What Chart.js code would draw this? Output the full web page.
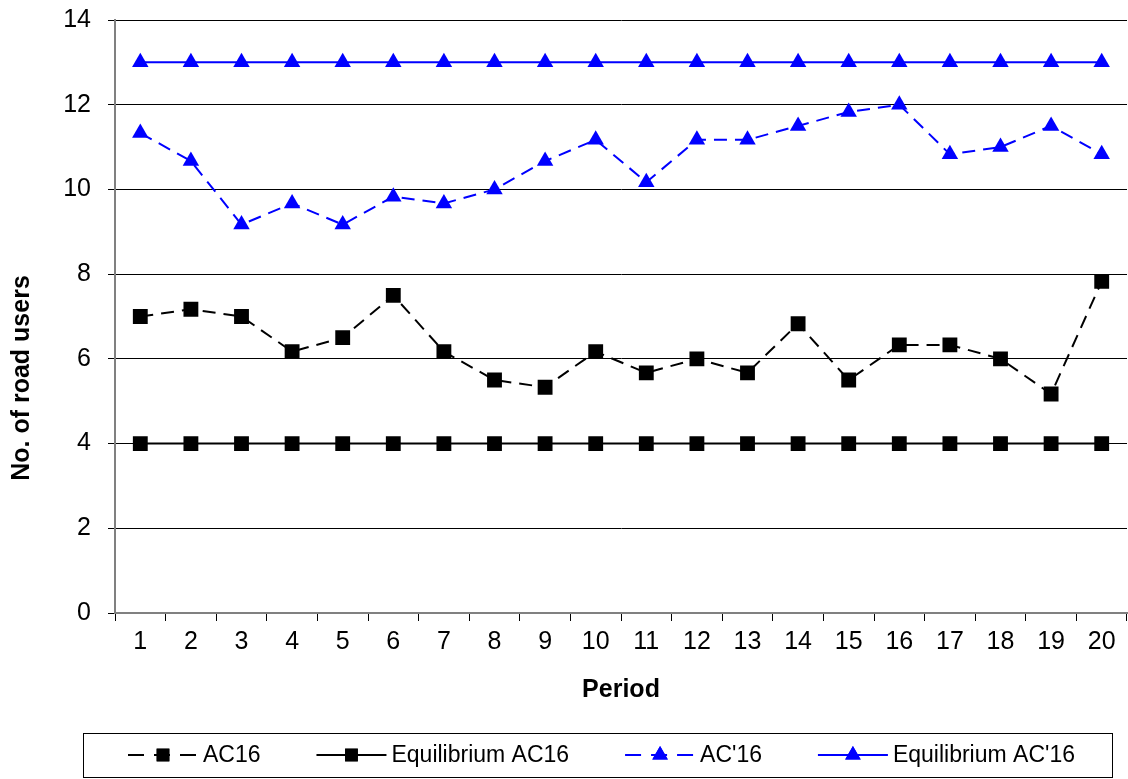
<!DOCTYPE html>
<html>
<head>
    <title>Road users per period</title>
    <script src="https://cdn.jsdelivr.net/npm/chart.js"></script>
    <style>
        html, body { margin: 0; padding: 0; background: #fff; }
        #wrap { width: 1128px; height: 779px; }
    </style>
</head>
<body>
<div id="wrap"><canvas id="roadChart"></canvas></div>
<script>
    // data
    const periods = ['1','2','3','4','5','6','7','8','9','10','11','12','13','14','15','16','17','18','19','20'];
    const ac16 = [7, 7.17, 7, 6.17, 6.5, 7.5, 6.17, 5.5, 5.33, 6.17, 5.67, 6, 5.67, 6.83, 5.5, 6.33, 6.33, 6, 5.17, 7.83];
    const eqAc16 = [4, 4, 4, 4, 4, 4, 4, 4, 4, 4, 4, 4, 4, 4, 4, 4, 4, 4, 4, 4];
    const acP16 = [11.33, 10.67, 9.17, 9.67, 9.17, 9.83, 9.67, 10, 10.67, 11.17, 10.17, 11.17, 11.17, 11.5, 11.83, 12, 10.83, 11, 11.5, 10.83];
    const eqAcP16 = [13, 13, 13, 13, 13, 13, 13, 13, 13, 13, 13, 13, 13, 13, 13, 13, 13, 13, 13, 13];
    const yTicks = [0, 2, 4, 6, 8, 10, 12, 14];
    const yTitle = 'No. of road users';

    const FONT = '"Liberation Sans", Arial, sans-serif';
    Chart.defaults.font.family = FONT;
    Chart.defaults.color = '#000';

    function series(label, data, color, dashed, marker) {
        return {
            label: label,
            data: data,
            borderColor: color,
            backgroundColor: color,
            borderWidth: 2,
            borderDash: dashed ? [13, 8] : [],
            pointStyle: marker,
            pointRadius: marker === 'rect' ? 10.5 : 9.5,
            pointBorderWidth: 0,
            pointBackgroundColor: color,
            tension: 0
        };
    }

    // y title (sits lower than the plot centre in the original) and the boxed legend
    const extras = {
        id: 'extras',
        afterDraw(chart) {
            const ctx = chart.ctx;
            ctx.save();
            ctx.fillStyle = '#000';
            ctx.font = 'bold 25px ' + FONT;
            ctx.textAlign = 'center';
            ctx.textBaseline = 'middle';
            ctx.translate(22, 378);
            ctx.rotate(-Math.PI / 2);
            ctx.fillText(yTitle, 0, 0);
            ctx.restore();

            const top = 733, bottom = 777, left = 83, right = 1112;
            const midY = (top + bottom) / 2;
            ctx.save();
            ctx.strokeStyle = '#000';
            ctx.lineWidth = 1;
            ctx.strokeRect(left + 0.5, top + 0.5, right - left, bottom - top);
            ctx.font = '23px ' + FONT;
            ctx.textBaseline = 'middle';
            const lineLen = 70, gapText = 5, span = 947;
            const items = chart.data.datasets.map(ds => ({ ds: ds, w: ctx.measureText(ds.label).width }));
            const used = items.reduce((s, it) => s + lineLen + gapText + it.w, 0);
            const gapItem = (span - used) / (items.length - 1);
            let x = 128;
            items.forEach(it => {
                const ds = it.ds;
                ctx.strokeStyle = ds.borderColor;
                ctx.lineWidth = 2;
                ctx.setLineDash(ds.borderDash.length ? [16, 10] : []);
                ctx.beginPath();
                ctx.moveTo(x, midY);
                ctx.lineTo(x + lineLen, midY);
                ctx.stroke();
                ctx.setLineDash([]);
                ctx.fillStyle = ds.borderColor;
                Chart.helpers.drawPoint(ctx, { pointStyle: ds.pointStyle, radius: 9, borderWidth: 0 }, x + lineLen / 2, midY);
                ctx.fill();
                ctx.fillStyle = '#000';
                ctx.fillText(ds.label, x + lineLen + gapText, midY + 1);
                x += lineLen + gapText + it.w + gapItem;
            });
            ctx.restore();
        }
    };

    new Chart(document.getElementById('roadChart').getContext('2d'), {
        type: 'line',
        data: {
            labels: periods,
            datasets: [
                series('AC16', ac16, '#000000', true, 'rect'),
                series('Equilibrium AC16', eqAc16, '#000000', false, 'rect'),
                series("AC'16", acP16, '#0000ff', true, 'triangle'),
                series("Equilibrium AC'16", eqAcP16, '#0000ff', false, 'triangle')
            ]
        },
        plugins: [extras],
        options: {
            responsive: true,
            maintainAspectRatio: false,
            animation: false,
            layout: { autoPadding: false, padding: { top: 20, right: 1, bottom: 60, left: 0 } },
            plugins: {
                legend: { display: false },
                tooltip: { enabled: false }
            },
            scales: {
                x: {
                    offset: true,
                    grid: { display: true, drawOnChartArea: false, drawTicks: true, tickLength: 8, color: '#000', offset: true },
                    border: { color: '#808080', width: 2 },
                    ticks: { font: { size: 25 }, padding: 6, maxRotation: 0, autoSkip: false },
                    title: { display: true, text: 'Period', font: { size: 25, weight: 'bold' }, padding: { top: 4, bottom: 14 } },
                    afterFit(scale) { scale.height = 106; }
                },
                y: {
                    min: 0,
                    max: 14,
                    afterBuildTicks(scale) { scale.ticks = yTicks.map(v => ({ value: v })); },
                    grid: { color: '#000', lineWidth: 1, tickLength: 7 },
                    border: { color: '#808080', width: 2 },
                    ticks: { font: { size: 25 }, padding: 17 },
                    afterFit(scale) {
                        scale.width = 115;
                        scale.paddingTop = 0;
                        scale.paddingBottom = 0;
                    }
                }
            }
        }
    });
</script>
</body>
</html>
